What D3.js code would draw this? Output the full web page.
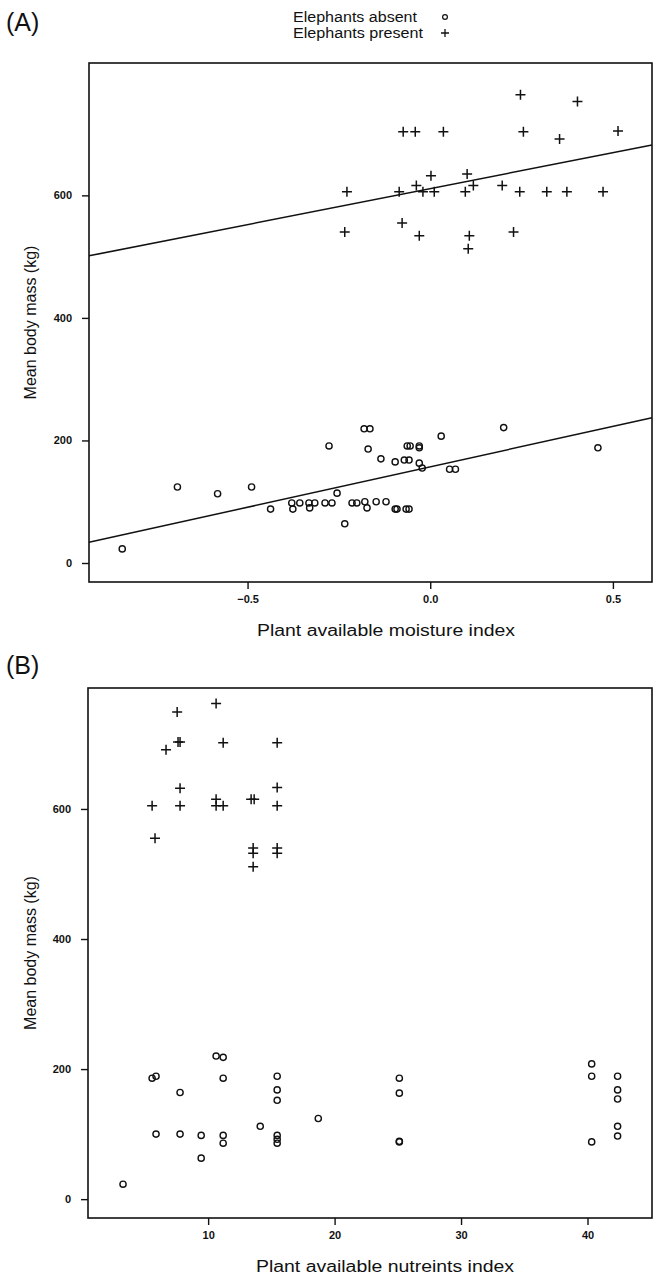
<!DOCTYPE html>
<html>
<head>
<meta charset="utf-8">
<script src="https://cdn.jsdelivr.net/npm/d3@7"></script>
<style>
	body { margin: 0; background: #fff; }
	text { font-family: "Liberation Sans", Arial, sans-serif; fill: #111; }
</style>
</head>
<body>
<div id="chart-area"></div>
<script>

/////////////////////////
// DATA
/////////////////////////

// Panel A - moisture index
let moistAbsentX = [-0.843, -0.692, -0.582, -0.489, -0.437, -0.379, -0.376, -0.357, -0.332, -0.330,
	-0.316, -0.288, -0.269, -0.277, -0.255, -0.234, -0.214, -0.201, -0.181, -0.165,
	-0.170, -0.179, -0.173, -0.148, -0.121, -0.135, -0.096, -0.096, -0.091, -0.066,
	-0.058, -0.071, -0.058, -0.063, -0.055, -0.030, -0.030, -0.030, -0.022, 0.030,
	0.053, 0.069, 0.201, 0.459];
let moistAbsentY = [23, 124, 113, 124, 88, 98, 88, 98, 98, 90,
	98, 98, 98, 191, 114, 64, 98, 98, 219, 219,
	186, 100, 90, 100, 100, 170, 165, 88, 88, 88,
	88, 168, 168, 191, 191, 191, 188, 163, 155, 207,
	153, 153, 221, 188];

let moistPresentX = [-0.228, -0.234, 0.247, 0.403, -0.074, -0.041, 0.036, 0.255, 0.354, 0.514,
	0.002, 0.101, -0.038, 0.118, 0.197, -0.085, -0.020, 0.011, 0.096, 0.245,
	0.319, 0.374, 0.473, -0.077, -0.030, 0.107, 0.228, 0.104];
let moistPresentY = [606, 540, 764, 753, 704, 704, 704, 704, 692, 705,
	632, 635, 616, 616, 616, 606, 606, 606, 606, 606,
	606, 606, 606, 555, 534, 534, 540, 513];

// fitted lines in panel A (absent, present)
let fitIntercepts = [157, 611];
let fitSlopes = [132, 117.5];

// Panel B - nutrients index
let nutrAbsentX = [3.27, 5.57, 5.88, 7.78, 5.88, 7.78, 9.45, 9.45, 10.63, 11.19,
	11.19, 11.19, 11.19, 14.12, 15.46, 15.46, 15.46, 15.46, 15.46, 15.46,
	18.71, 25.12, 25.12, 25.12, 25.12, 40.33, 40.33, 40.33, 42.38, 42.38,
	42.38, 42.38, 42.38];
let nutrAbsentY = [23, 186, 189, 164, 100, 100, 98, 63, 220, 218,
	186, 98, 86, 112, 189, 168, 152, 98, 92, 86,
	124, 186, 163, 88, 89, 208, 189, 88, 189, 168,
	154, 112, 97];

let nutrPresentX = [7.55, 10.63, 7.62, 7.78, 6.67, 11.19, 15.46, 7.78, 15.46, 5.57,
	7.78, 10.63, 10.63, 11.19, 13.40, 13.64, 15.46, 5.80, 13.56, 13.56,
	13.56, 15.46, 15.46];
let nutrPresentY = [749, 762, 703, 703, 691, 702, 702, 632, 633, 605,
	605, 615, 605, 605, 615, 615, 605, 555, 540, 532,
	511, 540, 532];

// ticks
let yTicks = [0, 200, 400, 600];
let moistTicks = [-0.5, 0.0, 0.5];
let nutrTicks = [10, 20, 30, 40];

let legendLabels = ["Elephants absent", "Elephants present"];


/////////////////////////
// SVG drawing area
/////////////////////////

let width = 657, height = 1278;

let svg = d3.select("#chart-area").append("svg")
	.attr("width", width)
	.attr("height", height);


// draw a circle or plus marker
function drawMarks(g, xs, ys, x, y, kind, size) {
	let pts = xs.map((d, i) => ({x: d, y: ys[i]}));
	if (kind === "circle") {
		g.selectAll("circle.pt")
			.data(pts)
			.enter()
			.append("circle")
			.attr("class", "pt")
			.attr("cx", d => x(d.x))
			.attr("cy", d => y(d.y))
			.attr("r", size)
			.attr("fill", "none")
			.attr("stroke", "#111")
			.attr("stroke-width", 1.4);
	} else {
		g.selectAll("path.pt")
			.data(pts)
			.enter()
			.append("path")
			.attr("class", "pt")
			.attr("d", d => {
				let cx = x(d.x), cy = y(d.y);
				return "M" + (cx - size) + "," + cy + "H" + (cx + size) +
					"M" + cx + "," + (cy - size) + "V" + (cy + size);
			})
			.attr("stroke", "#111")
			.attr("stroke-width", 1.5)
			.attr("fill", "none");
	}
}


// one panel: box, axes, titles
function drawPanel(p) {
	let g = svg.append("g");

	let x = d3.scaleLinear().domain(p.xDomain).range([p.left, p.right]);
	let y = d3.scaleLinear().domain(p.yDomain).range([p.bottom, p.top]);

	g.append("rect")
		.attr("x", p.left)
		.attr("y", p.top)
		.attr("width", p.right - p.left)
		.attr("height", p.bottom - p.top)
		.attr("fill", "none")
		.attr("stroke", "#111")
		.attr("stroke-width", 1.6);

	let xAxis = d3.axisBottom(x)
		.tickValues(p.xTicks)
		.tickFormat(p.xFormat)
		.tickSize(7)
		.tickSizeOuter(0)
		.tickPadding(6);

	let yAxis = d3.axisLeft(y)
		.tickValues(yTicks)
		.tickFormat(d3.format("d"))
		.tickSize(7)
		.tickSizeOuter(0)
		.tickPadding(10);

	let xg = g.append("g")
		.attr("transform", "translate(0," + p.bottom + ")")
		.call(xAxis);
	let yg = g.append("g")
		.attr("transform", "translate(" + p.left + ",0)")
		.call(yAxis);

	[xg, yg].forEach(a => {
		a.select(".domain").remove();
		a.selectAll("line").attr("stroke", "#111").attr("stroke-width", 1.4);
		a.selectAll("text")
			.attr("font-family", "Liberation Sans, Arial, sans-serif")
			.attr("font-size", 11)
			.attr("font-weight", "bold")
			.attr("fill", "#222");
	});

	// axis titles
	g.append("text")
		.attr("x", p.titleX)
		.attr("y", p.bottom + 54)
		.attr("text-anchor", "middle")
		.attr("font-size", 16)
		.attr("textLength", 258)
		.attr("lengthAdjust", "spacingAndGlyphs")
		.text(p.xTitle);

	g.append("text")
		.attr("transform", "translate(36," + ((p.top + p.bottom) / 2) + ") rotate(-90)")
		.attr("text-anchor", "middle")
		.attr("font-size", 16)
		.text("Mean body mass (kg)");

	// panel letter
	g.append("text")
		.attr("x", 6)
		.attr("y", p.letterY)
		.attr("font-size", 25)
		.text(p.letter);

	return {g: g, x: x, y: y};
}


/////////////////////////
// PANEL A
/////////////////////////

let A = drawPanel({
	left: 89, right: 652, top: 63, bottom: 582,
	xDomain: [-0.934, 0.607], yDomain: [-31, 816],
	xTicks: moistTicks, xFormat: d3.format(".1f"),
	xTitle: "Plant available moisture index", titleX: 386,
	letter: "(A)", letterY: 31
});

// fitted lines, from one side of the box to the other
A.g.selectAll("line.fit")
	.data(fitIntercepts.map((b, i) => ({b: b, m: fitSlopes[i]})))
	.enter()
	.append("line")
	.attr("class", "fit")
	.attr("x1", A.x(A.x.domain()[0]))
	.attr("x2", A.x(A.x.domain()[1]))
	.attr("y1", d => A.y(d.b + d.m * A.x.domain()[0]))
	.attr("y2", d => A.y(d.b + d.m * A.x.domain()[1]))
	.attr("stroke", "#111")
	.attr("stroke-width", 1.5);

drawMarks(A.g.append("g"), moistAbsentX, moistAbsentY, A.x, A.y, "circle", 3.1);
drawMarks(A.g.append("g"), moistPresentX, moistPresentY, A.x, A.y, "plus", 5);


/////////////////////////
// PANEL B
/////////////////////////

let B = drawPanel({
	left: 88, right: 652, top: 688, bottom: 1218,
	xDomain: [0.5, 45.1], yDomain: [-29, 786],
	xTicks: nutrTicks, xFormat: d3.format("d"),
	xTitle: "Plant available nutreints index", titleX: 385,
	letter: "(B)", letterY: 674
});

drawMarks(B.g.append("g"), nutrAbsentX, nutrAbsentY, B.x, B.y, "circle", 3.1);
drawMarks(B.g.append("g"), nutrPresentX, nutrPresentY, B.x, B.y, "plus", 5);


/////////////////////////
// LEGEND
/////////////////////////

let legend = svg.append("g");

legend.selectAll("text")
	.data(legendLabels)
	.enter()
	.append("text")
	.attr("x", 293)
	.attr("y", (d, i) => 22 + i * 16)
	.attr("font-size", 14)
	.attr("textLength", (d, i) => i === 0 ? 124 : 130)
	.attr("lengthAdjust", "spacingAndGlyphs")
	.text(d => d);

legend.append("circle")
	.attr("cx", 445)
	.attr("cy", 17)
	.attr("r", 2.4)
	.attr("fill", "none")
	.attr("stroke", "#111")
	.attr("stroke-width", 1.2);

legend.append("path")
	.attr("d", "M441,33H449M445,29V37")
	.attr("stroke", "#111")
	.attr("stroke-width", 1.3);

</script>
</body>
</html>
